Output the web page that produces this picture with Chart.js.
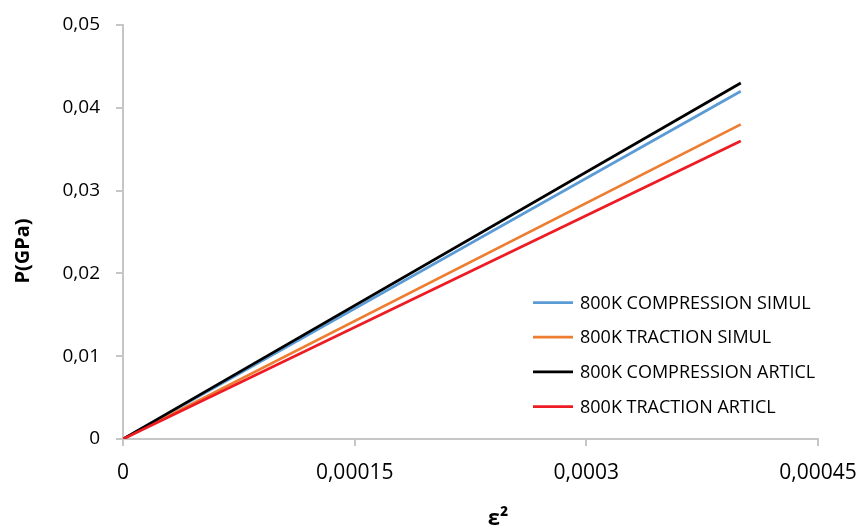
<!DOCTYPE html>
<html>
<head>
<meta charset="utf-8">
<script src="https://cdn.jsdelivr.net/npm/chart.js@4.4.0/dist/chart.umd.min.js"></script>
<style>
  html, body { margin: 0; padding: 0; background: #fff; }
  #wrap { width: 862px; height: 528px; }
</style>
</head>
<body>
<div id="wrap"><canvas id="chart" width="862" height="528"></canvas></div>
<script>
// Data (x = strain squared, y = pressure in GPa)
const strainSq = [0, 0.0004];
const compressionSimul = [0, 0.042];
const tractionSimul = [0, 0.038];
const compressionArticl = [0, 0.043];
const tractionArticl = [0, 0.036];

const seriesLabels = [
    '800K COMPRESSION SIMUL',
    '800K TRACTION SIMUL',
    '800K COMPRESSION ARTICL',
    '800K TRACTION ARTICL'
];
const seriesColors = ['#5B9BD5', '#ED7D31', '#000000', '#ED1C24'];
const seriesValues = [compressionSimul, tractionSimul, compressionArticl, tractionArticl];

const axisGray = '#c6c6c6';

// format numbers with a decimal comma, like the original
function commaNum(v) {
    return parseFloat(v.toFixed(6)).toString().replace('.', ',');
}

// legend + axis titles drawn by hand so they sit where the original has them
const extrasPlugin = {
    id: 'extras',
    afterDraw(chart) {
        const c = chart.ctx;
        c.save();

        // legend inside the plot
        c.font = '18px "Open Sans"';
        c.textBaseline = 'middle';
        c.textAlign = 'left';
        chart.data.datasets.forEach((ds, i) => {
            const y = 302.5 + i * 34.7;
            c.strokeStyle = ds.borderColor;
            c.lineWidth = 2.75;
            c.beginPath();
            c.moveTo(533, y);
            c.lineTo(573, y);
            c.stroke();
            c.fillStyle = '#000';
            c.fillText(ds.label, 580, y + 1);
        });

        // y title
        c.font = 'bold 20px "Open Sans"';
        c.fillStyle = '#000';
        c.textAlign = 'center';
        c.textBaseline = 'middle';
        c.translate(23, 251);
        c.rotate(-Math.PI / 2);
        c.fillText('P(GPa)', 0, 0);
        c.setTransform(1, 0, 0, 1, 0, 0);

        // x title
        c.font = 'bold 22px "Open Sans"';
        c.textBaseline = 'alphabetic';
        c.fillText('ε²', 498, 525);
        c.restore();
    }
};

const datasets = seriesLabels.map((label, i) => ({
    label: label,
    data: strainSq.map((x, k) => ({ x: x, y: seriesValues[i][k] })),
    borderColor: seriesColors[i],
    backgroundColor: seriesColors[i],
    borderWidth: 2.75,
    pointRadius: 0,
    tension: 0,
    fill: false,
    order: 4 - i   // later series painted on top
}));

new Chart(document.getElementById('chart'), {
    type: 'line',
    data: { datasets: datasets },
    options: {
        responsive: false,
        animation: false,
        layout: { padding: { top: 25, right: 44, left: 0, bottom: 0 } },
        plugins: {
            legend: { display: false },
            tooltip: { enabled: false }
        },
        scales: {
            x: {
                type: 'linear',
                min: 0,
                max: 0.00045,
                afterFit: (scale) => {
                    scale.height = 89;
                    scale.paddingLeft = 0;
                    scale.paddingRight = 0;
                },
                ticks: {
                    stepSize: 0.00015,
                    color: '#000',
                    font: { family: 'Open Sans', size: 21 },
                    padding: 14,
                    maxRotation: 0,
                    callback: (v) => commaNum(v)
                },
                grid: {
                    drawOnChartArea: false,
                    drawTicks: true,
                    tickLength: 7,
                    color: axisGray,
                    lineWidth: 2
                },
                border: { color: axisGray, width: 2 }
            },
            y: {
                min: 0,
                max: 0.05,
                afterFit: (scale) => {
                    scale.width = 123;
                    scale.paddingTop = 0;
                    scale.paddingBottom = 0;
                },
                ticks: {
                    stepSize: 0.01,
                    color: '#000',
                    font: { family: 'Open Sans', size: 19 },
                    padding: 16,
                    callback: (v) => commaNum(v)
                },
                grid: {
                    drawOnChartArea: false,
                    drawTicks: true,
                    tickLength: 7,
                    color: axisGray,
                    lineWidth: 2
                },
                border: { color: axisGray, width: 2 }
            }
        }
    },
    plugins: [extrasPlugin]
});
</script>
</body>
</html>
